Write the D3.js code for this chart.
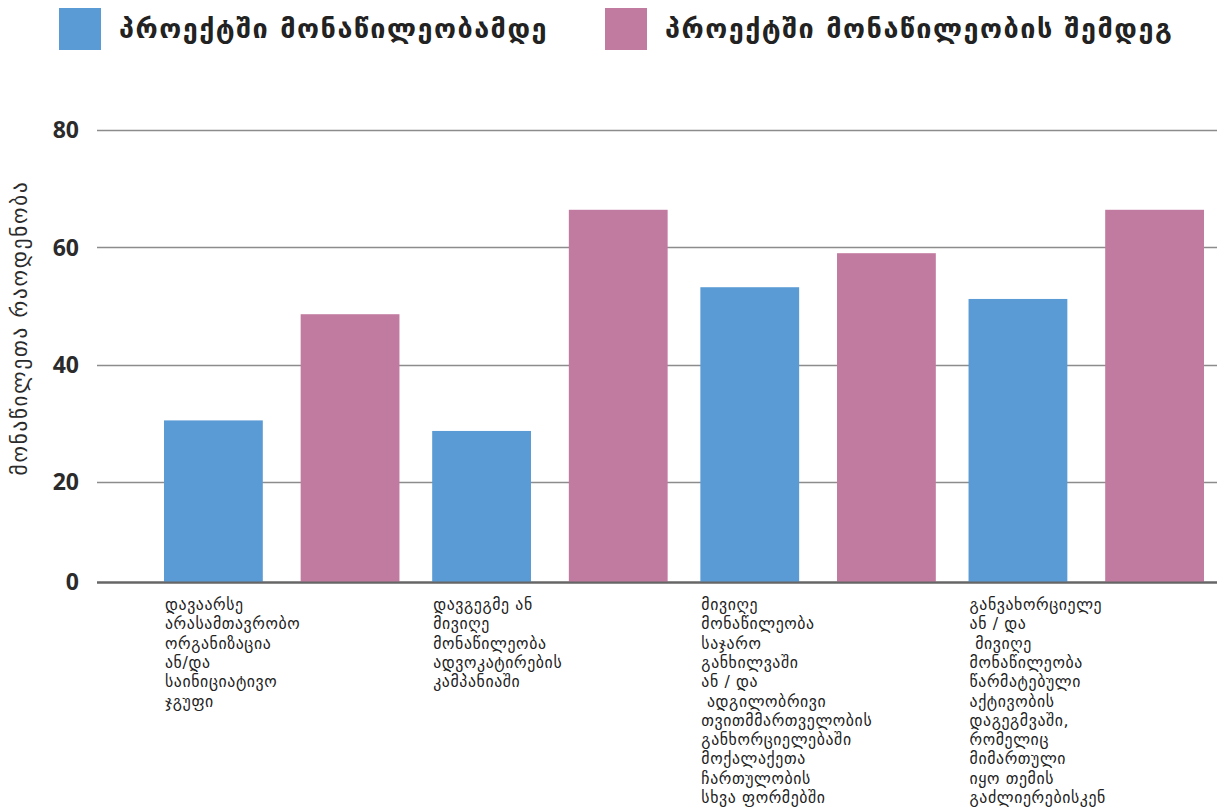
<!DOCTYPE html>
<html>
<head>
<meta charset="utf-8">
<style>
  body { margin: 0; background: #fff; }
  svg { display: block; }
  .grid line { stroke: #8c8c8c; stroke-width: 1.3; }
  .grid .base { stroke: #666; stroke-width: 2.2; }
  .ytick { font-family: "Open Sans", "DejaVu Sans", sans-serif; font-weight: 700; font-size: 23px; fill: #2b2b2b; }
  .ytitle { font-family: "DejaVu Sans", sans-serif; font-size: 21px; fill: #2b2b2b; letter-spacing: 1.8px; }
  .cat { font-family: "DejaVu Sans", sans-serif; font-size: 15.8px; fill: #222; white-space: pre; letter-spacing: 0.6px; }
  .legend { font-family: "DejaVu Sans", sans-serif; font-weight: 700; font-size: 27px; fill: #222; letter-spacing: 1.5px; }
</style>
</head>
<body>
<svg width="1217" height="809"></svg>
<script src="https://cdn.jsdelivr.net/npm/d3@7"></script>
<script>
// data
var series = ["პროექტში მონაწილეობამდე", "პროექტში მონაწილეობის შემდეგ"];
var colors = ["#5b9bd5", "#c27ba0"];
var categories = ["c1", "c2", "c3", "c4"];
var catLabels = [
  ["დავაარსე", "არასამთავრობო", "ორგანიზაცია", "ან/და", "საინიციატივო", "ჯგუფი"],
  ["დავგეგმე ან", "მივიღე", "მონაწილეობა", "ადვოკატირების", "კამპანიაში"],
  ["მივიღე", "მონაწილეობა", "საჯარო", "განხილვაში", "ან / და", " ადგილობრივი", "თვითმმართველობის", "განხორციელებაში", "მოქალაქეთა", "ჩართულობის", "სხვა ფორმებში"],
  ["განვახორციელე", "ან / და", " მივიღე", "მონაწილეობა", "წარმატებული", "აქტივობის", "დაგეგმვაში,", "რომელიც", "მიმართული", "იყო თემის", "გაძლიერებისკენ"]
];
var before = [30.5, 28.7, 53.2, 51.2];
var after = [48.6, 66.4, 59.0, 66.4];
var yTicks = [0, 20, 40, 60, 80];
var yTitle = "მონაწილეთა რაოდენობა";

var svg = d3.select("svg");

// the original axis is uneven: 0-20 is shorter than the other steps
var y = d3.scaleLinear().domain([0, 20, 80]).range([582, 482, 130]);

var x0 = d3.scaleBand().domain(categories).range([164, 1204]).paddingInner(0.122).paddingOuter(0);
var x1 = d3.scaleBand().domain(series).range([0, x0.bandwidth()]).paddingInner(0.277).paddingOuter(0);

var gridLeft = 97, gridRight = 1217;

// gridlines
var grid = svg.append("g").attr("class", "grid");
grid.selectAll("line")
  .data(yTicks)
  .enter().append("line")
  .attr("class", function(d) { return d === 0 ? "base" : null; })
  .attr("x1", gridLeft)
  .attr("x2", gridRight)
  .attr("y1", function(d) { return Math.round(y(d)) + 0.5; })
  .attr("y2", function(d) { return Math.round(y(d)) + 0.5; });

// tick labels
svg.selectAll(".ytick")
  .data(yTicks)
  .enter().append("text")
  .attr("class", "ytick")
  .attr("x", 79)
  .attr("y", function(d) { return y(d); })
  .attr("dy", "0.36em")
  .attr("text-anchor", "end")
  .text(function(d) { return d; });

// y title
svg.append("text")
  .attr("class", "ytitle")
  .attr("transform", "translate(27,328) rotate(-90)")
  .attr("text-anchor", "middle")
  .text(yTitle);

// bars
var rows = categories.map(function(c, i) {
  return { cat: c, values: [before[i], after[i]] };
});
var groups = svg.selectAll(".grp")
  .data(rows)
  .enter().append("g")
  .attr("class", "grp")
  .attr("transform", function(d) { return "translate(" + x0(d.cat) + ",0)"; });

groups.selectAll("rect")
  .data(function(d) { return d.values.map(function(v, j) { return { s: series[j], v: v, c: colors[j] }; }); })
  .enter().append("rect")
  .attr("x", function(d) { return x1(d.s); })
  .attr("width", x1.bandwidth())
  .attr("y", function(d) { return y(d.v); })
  .attr("height", function(d) { return y(0) - y(d.v); })
  .attr("fill", function(d) { return d.c; });

// re-draw baseline on top of bars
svg.append("line")
  .attr("x1", gridLeft).attr("x2", gridRight)
  .attr("y1", Math.round(y(0)) + 0.5).attr("y2", Math.round(y(0)) + 0.5)
  .attr("stroke", "#666").attr("stroke-width", 2.2);

// category labels
groups.append("text")
  .attr("class", "cat")
  .attr("x", 1)
  .attr("y", 610)
  .each(function(d, i) {
    var t = d3.select(this);
    catLabels[i].forEach(function(line, k) {
      t.append("tspan")
        .attr("x", 1)
        .attr("dy", k === 0 ? 0 : 19.3)
        .text(line);
    });
  });

// legend
var legX = [59, 605];
var leg = svg.selectAll(".leg")
  .data(series)
  .enter().append("g")
  .attr("class", "leg")
  .attr("transform", function(d, i) { return "translate(" + legX[i] + ",8)"; });
leg.append("rect")
  .attr("width", 42)
  .attr("height", 42)
  .attr("fill", function(d, i) { return colors[i]; });
leg.append("text")
  .attr("class", "legend")
  .attr("x", 60)
  .attr("y", 21)
  .attr("dy", "0.35em")
  .text(function(d) { return d; });
</script>
</body>
</html>
